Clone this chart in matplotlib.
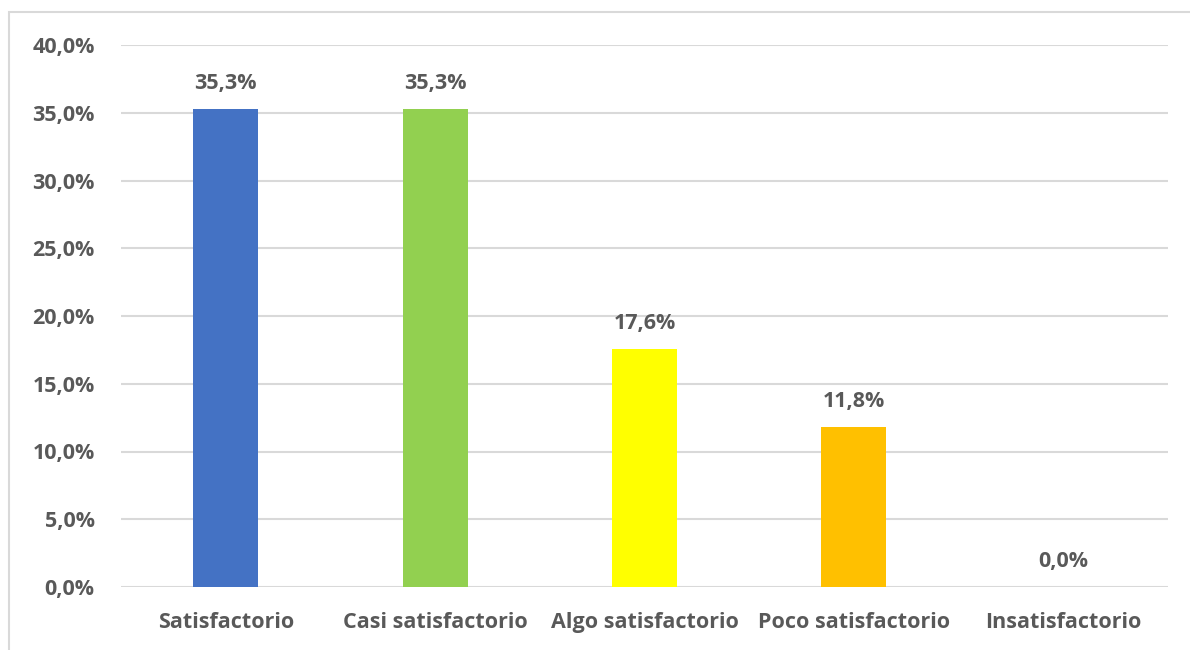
import matplotlib.pyplot as plt
from matplotlib.patches import Rectangle
from matplotlib.ticker import FuncFormatter

categorias = ['Satisfactorio', 'Casi satisfactorio', 'Algo satisfactorio',
              'Poco satisfactorio', 'Insatisfactorio']
porcentajes = [35.3, 35.3, 17.6, 11.8, 0.0]
colores = ['#4472C4', '#92D050', '#FFFF00', '#FFC000', '#A5A5A5']

plt.rcParams['font.family'] = ['Open Sans', 'DejaVu Sans']
gris = '#595959'
tam = 15.5

W, H = 1190, 650
fig = plt.figure(figsize=(W / 100, H / 100), dpi=100)

# borde del área del gráfico (solo se ve arriba y a la izquierda)
fig.patches.append(Rectangle((9 / W, -0.1), 1.2, (650 - 12) / H + 0.1,
                             transform=fig.transFigure, fill=False,
                             edgecolor='#D9D9D9', linewidth=1.5))

ax = fig.add_axes([121 / W, (650 - 587) / H, (1168 - 121) / W, (587 - 45) / H])

x = range(len(categorias))
barras = ax.bar(x, porcentajes, width=0.31, color=colores, zorder=3)

for xi, v in zip(x, porcentajes):
    ax.text(xi, v + 1.1, f'{v:.1f}%'.replace('.', ','), ha='center', va='bottom',
            fontsize=tam, fontweight='bold', color=gris)

ax.set_xlim(-0.5, len(categorias) - 0.5)
ax.set_ylim(0, 40)
ax.set_yticks(range(0, 41, 5))
ax.yaxis.set_major_formatter(FuncFormatter(lambda v, p: f'{v:.1f}%'.replace('.', ',')))
ax.set_xticks(list(x))
ax.set_xticklabels(categorias)

ax.grid(axis='y', color='#D9D9D9', linewidth=1.5, zorder=0)
for s in ax.spines.values():
    s.set_visible(False)
ax.tick_params(length=0, labelsize=tam, colors=gris)
ax.tick_params(axis='y', pad=19)
ax.tick_params(axis='x', pad=18)
for t in ax.get_xticklabels() + ax.get_yticklabels():
    t.set_fontweight('bold')

fig.savefig('out.png', dpi=100)
